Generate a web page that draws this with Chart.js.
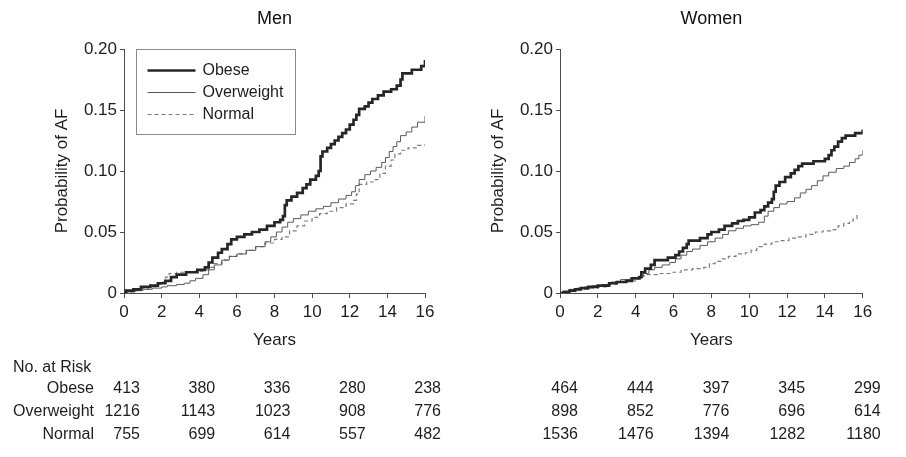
<!DOCTYPE html>
<html>
<head>
<meta charset="utf-8">
<title>Probability of AF by BMI group</title>
<script src="https://cdn.jsdelivr.net/npm/chart.js@4.4.1/dist/chart.umd.min.js"></script>
<style>
  html, body { margin: 0; padding: 0; background: #fff; }
  #wrap { position: relative; width: 906px; height: 457px; overflow: hidden; }
  #wrap canvas { position: absolute; top: 0; }
</style>
</head>
<body>
<div id="wrap">
  <canvas id="menChart" width="453" height="457" style="left:0"></canvas>
  <canvas id="womenChart" width="453" height="457" style="left:453px"></canvas>
</div>
<script>
// ---- axis tick labels ----
const yearTickLabels = ['0', '2', '4', '6', '8', '10', '12', '14', '16'];
const probTickLabels = ['0', '0.05', '0.10', '0.15', '0.20'];

// ---- cumulative probability of AF, men (event times in years) ----
const menObeseYears = [0, 0.1, 0.5, 0.9, 1.4, 1.8, 2.2, 2.5, 2.8, 3.3, 3.9, 4.3, 4.5, 4.7, 5.0, 5.2, 5.5, 5.7, 6.0, 6.4, 6.8, 7.2, 7.6, 8.0, 8.3, 8.45, 8.55, 8.65, 8.9, 9.2, 9.5, 9.7, 9.9, 10.2, 10.35, 10.45, 10.55, 10.8, 11.0, 11.2, 11.4, 11.6, 11.8, 12.0, 12.2, 12.35, 12.5, 12.8, 13.0, 13.2, 13.5, 13.8, 14.2, 14.5, 14.7, 14.8, 15.3, 15.8, 16.0];
const menObeseProb = [0, 0.002, 0.003, 0.005, 0.006, 0.008, 0.010, 0.013, 0.015, 0.017, 0.019, 0.021, 0.025, 0.029, 0.033, 0.036, 0.040, 0.044, 0.046, 0.048, 0.050, 0.052, 0.055, 0.058, 0.060, 0.063, 0.072, 0.076, 0.079, 0.082, 0.086, 0.089, 0.093, 0.096, 0.100, 0.112, 0.116, 0.119, 0.122, 0.125, 0.128, 0.131, 0.134, 0.138, 0.142, 0.146, 0.151, 0.153, 0.156, 0.159, 0.162, 0.165, 0.167, 0.170, 0.175, 0.180, 0.183, 0.186, 0.191];

const menOverweightYears = [0, 0.2, 0.6, 1.0, 1.5, 2.0, 2.3, 2.8, 3.2, 3.5, 3.8, 4.2, 4.5, 4.8, 5.2, 5.6, 6.0, 6.5, 7.0, 7.5, 7.8, 8.1, 8.4, 8.7, 9.0, 9.4, 9.8, 10.2, 10.6, 11.0, 11.4, 11.8, 12.1, 12.3, 12.5, 12.8, 13.1, 13.4, 13.7, 13.9, 14.1, 14.3, 14.5, 14.7, 15.0, 15.3, 15.6, 16.0];
const menOverweightProb = [0, 0.001, 0.002, 0.003, 0.004, 0.005, 0.006, 0.007, 0.008, 0.010, 0.012, 0.015, 0.019, 0.023, 0.027, 0.030, 0.032, 0.035, 0.038, 0.042, 0.046, 0.050, 0.054, 0.058, 0.061, 0.064, 0.067, 0.069, 0.071, 0.074, 0.077, 0.080, 0.083, 0.088, 0.093, 0.097, 0.100, 0.103, 0.107, 0.111, 0.116, 0.120, 0.124, 0.129, 0.132, 0.136, 0.140, 0.145];

const menNormalYears = [0, 0.1, 0.5, 0.9, 1.3, 1.7, 2.0, 2.2, 2.4, 2.8, 3.8, 4.2, 4.5, 4.8, 5.2, 5.6, 6.0, 6.5, 7.0, 7.5, 8.0, 8.4, 8.8, 9.2, 9.6, 10.0, 10.4, 10.8, 11.3, 11.8, 12.2, 12.35, 12.5, 12.9, 13.3, 13.6, 13.9, 14.2, 14.4, 14.7, 15.1, 15.6, 16.0];
const menNormalProb = [0, 0.001, 0.002, 0.004, 0.005, 0.007, 0.009, 0.013, 0.016, 0.017, 0.018, 0.019, 0.021, 0.024, 0.027, 0.030, 0.032, 0.035, 0.038, 0.041, 0.044, 0.046, 0.051, 0.055, 0.059, 0.062, 0.065, 0.067, 0.070, 0.073, 0.076, 0.081, 0.089, 0.091, 0.093, 0.098, 0.104, 0.109, 0.114, 0.117, 0.119, 0.121, 0.122];

// ---- cumulative probability of AF, women ----
const womenObeseYears = [0, 0.2, 0.5, 0.8, 1.1, 1.5, 2.0, 2.6, 3.0, 3.5, 3.8, 4.2, 4.3, 4.5, 4.8, 5.0, 5.7, 6.1, 6.3, 6.5, 6.7, 6.8, 7.4, 7.8, 8.0, 8.4, 8.7, 9.1, 9.4, 9.7, 10.0, 10.3, 10.6, 10.8, 11.0, 11.2, 11.3, 11.4, 11.6, 11.9, 12.2, 12.4, 12.6, 12.8, 13.4, 14.0, 14.2, 14.35, 14.5, 14.7, 14.9, 15.1, 15.6, 16.0];
const womenObeseProb = [0, 0.001, 0.002, 0.003, 0.004, 0.005, 0.006, 0.008, 0.009, 0.010, 0.012, 0.013, 0.017, 0.020, 0.023, 0.027, 0.029, 0.031, 0.034, 0.037, 0.040, 0.043, 0.045, 0.048, 0.050, 0.052, 0.055, 0.057, 0.059, 0.060, 0.062, 0.066, 0.068, 0.071, 0.074, 0.077, 0.083, 0.088, 0.091, 0.095, 0.098, 0.101, 0.104, 0.106, 0.108, 0.110, 0.113, 0.117, 0.120, 0.124, 0.127, 0.129, 0.131, 0.134];

const womenOverweightYears = [0, 0.2, 0.5, 0.9, 1.3, 1.7, 2.2, 2.7, 3.2, 3.7, 4.1, 4.4, 4.7, 5.0, 5.4, 5.8, 6.1, 6.4, 6.7, 7.0, 7.4, 7.8, 8.2, 8.6, 8.9, 9.3, 9.7, 10.1, 10.5, 10.8, 11.0, 11.3, 11.6, 12.0, 12.4, 12.7, 13.0, 13.3, 13.6, 13.9, 14.2, 14.6, 15.0, 15.3, 15.6, 15.8, 16.0];
const womenOverweightProb = [0, 0.001, 0.003, 0.004, 0.005, 0.006, 0.007, 0.009, 0.011, 0.012, 0.013, 0.016, 0.019, 0.021, 0.023, 0.025, 0.028, 0.031, 0.034, 0.036, 0.039, 0.042, 0.045, 0.048, 0.051, 0.053, 0.055, 0.056, 0.058, 0.063, 0.067, 0.070, 0.073, 0.075, 0.078, 0.082, 0.085, 0.088, 0.092, 0.096, 0.099, 0.102, 0.104, 0.107, 0.110, 0.113, 0.117];

const womenNormalYears = [0, 0.2, 0.6, 1.0, 1.5, 2.0, 2.5, 3.0, 3.5, 4.0, 4.3, 4.6, 5.3, 5.9, 6.4, 7.0, 7.6, 7.9, 8.2, 8.5, 8.9, 9.3, 9.8, 10.1, 10.4, 10.8, 11.2, 11.7, 12.1, 12.6, 13.0, 13.5, 13.9, 14.3, 14.7, 15.0, 15.3, 15.5, 15.7];
const womenNormalProb = [0, 0.001, 0.002, 0.003, 0.004, 0.005, 0.007, 0.009, 0.010, 0.012, 0.014, 0.015, 0.016, 0.017, 0.019, 0.020, 0.021, 0.024, 0.026, 0.028, 0.030, 0.032, 0.033, 0.035, 0.038, 0.040, 0.042, 0.043, 0.045, 0.046, 0.048, 0.050, 0.051, 0.052, 0.055, 0.057, 0.059, 0.061, 0.064];

// ---- numbers at risk ----
const riskYears = [0, 4, 8, 12, 16];
const groupNames = ['Obese', 'Overweight', 'Normal'];
const menAtRiskObese = [413, 380, 336, 280, 238];
const menAtRiskOverweight = [1216, 1143, 1023, 908, 776];
const menAtRiskNormal = [755, 699, 614, 557, 482];
const womenAtRiskObese = [464, 444, 397, 345, 299];
const womenAtRiskOverweight = [898, 852, 776, 696, 614];
const womenAtRiskNormal = [1536, 1476, 1394, 1282, 1180];

// ---- styling ----
const FONT = "'Liberation Sans', Arial, Helvetica, sans-serif";
const INK = '#1e1e1e';
const AXIS = '#4d4d4d';
const groupStyle = {
  Obese:      { borderColor: '#262626', borderWidth: 2.7, borderDash: [] },
  Overweight: { borderColor: '#5a5a5a', borderWidth: 1,   borderDash: [] },
  Normal:     { borderColor: '#7c7c7c', borderWidth: 1.2, borderDash: [4, 3] }
};

function stepSeries(name, years, probs) {
  return Object.assign({
    label: name,
    data: years.map((t, i) => ({ x: t, y: probs[i] })),
    stepped: 'before',
    pointRadius: 0,
    fill: false,
    tension: 0
  }, groupStyle[name]);
}

// boxed legend in the upper-left corner of the plot area
const boxLegend = {
  id: 'boxLegend',
  afterDraw(chart, args, opts) {
    if (!opts.show) return;
    const { ctx, chartArea: a } = chart;
    const x0 = Math.round(a.left + opts.dx) + 0.5;
    const y0 = Math.round(a.top) + 0.5;
    ctx.save();
    ctx.strokeStyle = '#8c8c8c';
    ctx.lineWidth = 1;
    ctx.strokeRect(x0, y0, opts.width, opts.height);
    ctx.font = '16px ' + FONT;
    ctx.textBaseline = 'middle';
    ctx.textAlign = 'left';
    chart.data.datasets.forEach((ds, i) => {
      const y = y0 + opts.firstRow + i * opts.rowGap;
      ctx.beginPath();
      ctx.strokeStyle = ds.borderColor;
      ctx.lineWidth = ds.borderWidth;
      ctx.setLineDash(ds.borderDash || []);
      ctx.moveTo(x0 + 11, y);
      ctx.lineTo(x0 + 59, y);
      ctx.stroke();
      ctx.setLineDash([]);
      ctx.fillStyle = INK;
      ctx.fillText(ds.label, x0 + 66, y);
    });
    ctx.restore();
  }
};

// numbers-at-risk table under the time axis
const riskTable = {
  id: 'riskTable',
  afterDraw(chart, args, opts) {
    const { ctx } = chart;
    const xs = chart.scales.x;
    ctx.save();
    ctx.font = '16px ' + FONT;
    ctx.fillStyle = INK;
    ctx.textBaseline = 'middle';
    if (opts.heading) {
      ctx.textAlign = 'left';
      ctx.fillText(opts.heading, 13, opts.headingY);
    }
    opts.rows.forEach((counts, r) => {
      const y = opts.firstRowY + r * opts.rowGap;
      ctx.textAlign = 'right';
      if (opts.showNames) ctx.fillText(groupNames[r], 94, y);
      counts.forEach((n, i) => {
        ctx.fillText(String(n), xs.getPixelForValue(riskYears[i]) + opts.numOffset, y);
      });
    });
    ctx.restore();
  }
};

function makePanel(canvasId, title, datasets, geo, risk, legendOn) {
  const tickFont = { family: FONT, size: 17 };
  return new Chart(document.getElementById(canvasId), {
    type: 'line',
    data: { datasets },
    options: {
      responsive: false,
      animation: false,
      events: [],
      layout: { padding: { left: 0, right: geo.padRight, top: 0, bottom: 0 } },
      scales: {
        x: {
          type: 'linear', min: 0, max: 16,
          afterFit(s) { s.height = 164; },
          ticks: {
            stepSize: 2, color: INK, font: tickFont, padding: 4,
            maxRotation: 0, autoSkip: false,
            callback: (v, i) => yearTickLabels[i]
          },
          grid: { drawOnChartArea: false, drawTicks: true, tickLength: 5, color: AXIS },
          border: { display: true, color: AXIS, width: 1 },
          title: {
            display: true, text: 'Years', color: INK,
            font: { family: FONT, size: 17 }, padding: { top: 0, bottom: 106 }
          }
        },
        y: {
          type: 'linear', min: 0, max: 0.2,
          afterFit(s) { s.width = geo.yWidth; },
          ticks: {
            stepSize: 0.05, color: INK, font: tickFont, padding: 3,
            callback: (v, i) => probTickLabels[i]
          },
          grid: { drawOnChartArea: false, drawTicks: true, tickLength: 4, color: AXIS },
          border: { display: true, color: AXIS, width: 1 },
          title: {
            display: true, text: 'Probability of AF', color: INK,
            font: { family: FONT, size: 17 }, padding: { top: geo.yTitlePad, bottom: 0 }
          }
        }
      },
      plugins: {
        legend: { display: false },
        tooltip: { enabled: false },
        title: {
          display: true, text: title, fullSize: false, color: '#111',
          font: { family: FONT, size: 18, weight: 'normal' },
          padding: { top: 8.5, bottom: 18.9 }
        },
        boxLegend: { show: legendOn, dx: 12, width: 159, height: 85, firstRow: 21, rowGap: 22 },
        riskTable: risk
      }
    },
    plugins: [boxLegend, riskTable]
  });
}

makePanel('menChart', 'Men', [
  stepSeries('Obese', menObeseYears, menObeseProb),
  stepSeries('Overweight', menOverweightYears, menOverweightProb),
  stepSeries('Normal', menNormalYears, menNormalProb)
], { yWidth: 124, yTitlePad: 52, padRight: 28 }, {
  heading: 'No. at Risk', headingY: 368, showNames: true,
  firstRowY: 388.5, rowGap: 23, numOffset: 16,
  rows: [menAtRiskObese, menAtRiskOverweight, menAtRiskNormal]
}, true);

makePanel('womenChart', 'Women', [
  stepSeries('Obese', womenObeseYears, womenObeseProb),
  stepSeries('Overweight', womenOverweightYears, womenOverweightProb),
  stepSeries('Normal', womenNormalYears, womenNormalProb)
], { yWidth: 107, yTitlePad: 35, padRight: 43.3 }, {
  heading: '', headingY: 368, showNames: false,
  firstRowY: 388.5, rowGap: 23, numOffset: 18,
  rows: [womenAtRiskObese, womenAtRiskOverweight, womenAtRiskNormal]
}, false);
</script>
</body>
</html>
